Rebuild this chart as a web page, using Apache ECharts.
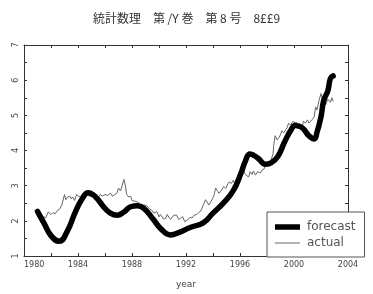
<!DOCTYPE html>
<html>
<head>
<meta charset="utf-8">
<script src="https://cdn.jsdelivr.net/npm/echarts@6/dist/echarts.min.js"></script>
<style>
  html, body { margin: 0; padding: 0; background: #fff; }
  #chart { width: 373px; height: 294px; }
</style>
</head>
<body>
<div id="chart"></div>
<script>
// 予測値 (太線)
var forecast = [
  [1981.0, 2.27], [1981.5, 1.92], [1982.0, 1.58], [1982.6, 1.42], [1983.2, 1.70],
  [1983.8, 2.25], [1984.3, 2.62], [1984.75, 2.80], [1985.3, 2.68], [1985.9, 2.40],
  [1986.4, 2.22], [1986.9, 2.16], [1987.4, 2.25], [1987.9, 2.40], [1988.4, 2.43],
  [1988.9, 2.35], [1989.5, 2.08], [1990.2, 1.75], [1990.85, 1.60], [1991.5, 1.67],
  [1992.3, 1.81], [1993.3, 1.95], [1994.0, 2.22], [1994.8, 2.52], [1995.5, 2.86],
  [1996.05, 3.33], [1996.4, 3.70], [1996.75, 3.90], [1997.3, 3.79], [1997.9, 3.61],
  [1998.3, 3.65], [1998.8, 3.83], [1999.3, 4.24], [1999.8, 4.60], [2000.1, 4.71],
  [2000.6, 4.65], [2001.1, 4.42], [2001.5, 4.33], [2001.7, 4.51], [2002.0, 4.96],
  [2002.2, 5.42], [2002.5, 5.69], [2002.7, 6.05], [2002.9, 6.12]
];

// 実績値 (細線)
var actual = [
  [1981.3, 2.02], [1981.45, 2.12], [1981.6, 2.08], [1981.8, 2.25], [1982.0, 2.18],
  [1982.15, 2.24], [1982.3, 2.20], [1982.5, 2.30], [1982.65, 2.34], [1982.8, 2.45],
  [1982.9, 2.47], [1983.0, 2.75], [1983.1, 2.60], [1983.25, 2.68], [1983.4, 2.70],
  [1983.5, 2.62], [1983.6, 2.68], [1983.75, 2.58], [1983.9, 2.75], [1984.05, 2.70],
  [1984.25, 2.66], [1984.4, 2.76], [1984.5, 2.79], [1984.7, 2.72], [1984.9, 2.70],
  [1985.1, 2.68], [1985.3, 2.62], [1985.5, 2.66], [1985.65, 2.75], [1985.8, 2.70],
  [1986.0, 2.75], [1986.2, 2.72], [1986.4, 2.79], [1986.55, 2.70], [1986.75, 2.75],
  [1986.9, 2.80], [1987.0, 2.93], [1987.15, 2.85], [1987.25, 2.88], [1987.4, 3.18],
  [1987.5, 3.02], [1987.6, 2.75], [1987.75, 2.68], [1987.9, 2.70], [1988.0, 2.58],
  [1988.1, 2.61], [1988.3, 2.55], [1988.5, 2.52], [1988.6, 2.40], [1988.7, 2.36],
  [1988.9, 2.45], [1989.1, 2.43], [1989.3, 2.34], [1989.5, 2.29], [1989.6, 2.22],
  [1989.7, 2.20], [1989.85, 2.26], [1990.0, 2.11], [1990.1, 2.18], [1990.2, 2.16],
  [1990.35, 2.05], [1990.5, 2.07], [1990.6, 2.18], [1990.7, 2.20], [1990.85, 2.04],
  [1990.96, 2.07], [1991.1, 2.16], [1991.3, 2.16], [1991.45, 2.04], [1991.6, 2.07],
  [1991.75, 2.12], [1991.9, 1.98], [1992.1, 2.02], [1992.3, 2.10], [1992.45, 2.08],
  [1992.6, 2.16], [1992.8, 2.18], [1992.95, 2.24], [1993.1, 2.28], [1993.3, 2.47],
  [1993.45, 2.60], [1993.56, 2.61], [1993.7, 2.45], [1993.8, 2.52], [1993.95, 2.62],
  [1994.05, 2.70], [1994.2, 2.93], [1994.35, 2.84], [1994.45, 2.78], [1994.6, 2.86],
  [1994.8, 2.98], [1994.95, 2.92], [1995.1, 3.05], [1995.2, 3.11], [1995.35, 3.06],
  [1995.5, 3.15], [1995.65, 3.02], [1995.8, 3.22], [1995.9, 3.33], [1996.05, 3.40],
  [1996.2, 3.47], [1996.35, 3.35], [1996.5, 3.28], [1996.65, 3.25], [1996.75, 3.40],
  [1996.9, 3.32], [1997.0, 3.42], [1997.15, 3.30], [1997.3, 3.40], [1997.5, 3.36],
  [1997.65, 3.45], [1997.8, 3.48], [1997.9, 3.60], [1998.1, 3.56], [1998.3, 3.74],
  [1998.45, 3.90], [1998.5, 4.15], [1998.6, 4.42], [1998.75, 4.30], [1998.9, 4.38],
  [1999.0, 4.45], [1999.1, 4.56], [1999.25, 4.50], [1999.4, 4.60], [1999.5, 4.66],
  [1999.6, 4.78], [1999.75, 4.72], [1999.9, 4.82], [2000.0, 4.87], [2000.1, 4.80],
  [2000.25, 4.78], [2000.4, 4.70], [2000.5, 4.74], [2000.6, 4.66], [2000.7, 4.83],
  [2000.85, 4.78], [2001.0, 4.87], [2001.1, 4.78], [2001.2, 4.83], [2001.35, 4.88],
  [2001.5, 4.96], [2001.6, 5.24], [2001.7, 5.15], [2001.85, 5.42], [2002.0, 5.62],
  [2002.1, 5.48], [2002.2, 5.42], [2002.35, 5.30], [2002.5, 5.46], [2002.6, 5.51],
  [2002.7, 5.37], [2002.8, 5.50], [2002.9, 5.40]
];

var seriesNames = ['forecast', 'actual'];
var titleText = '統計数理　第 /Y 巻　第 8 号　8££9';
var xName = 'year';

var axisColor = '#333';
var tickStyle = { show: true, inside: true, length: 3, lineStyle: { color: axisColor } };
var minorStyle = { show: true, splitNumber: 2, length: 3, lineStyle: { color: axisColor } };
var labelFont = { fontFamily: 'DejaVu Sans', fontSize: 8, color: '#444' };
// 年は区切りなしで表示
var plainNum = function (v) { return String(v); };

var myChart = echarts.init(document.getElementById('chart'));
var option = {
  animation: false,
  backgroundColor: '#fff',
  title: {
    text: titleText,
    left: 'center',
    top: 7,
    textStyle: { fontFamily: 'Noto Sans CJK JP', fontSize: 12, fontWeight: 'normal', color: '#333' }
  },
  grid: { left: 24, right: 25, top: 45, bottom: 28 },
  legend: {
    data: [
      { name: seriesNames[0], icon: 'path://M0,0 L25,0 L25,5.5 L0,5.5 Z' },
      { name: seriesNames[1], icon: 'path://M0,0 L25,0 L25,1 L0,1 Z' }
    ],
    orient: 'vertical',
    left: 267,
    top: 212,
    padding: [9, 9, 8, 8],
    itemGap: 4,
    itemWidth: 25,
    itemHeight: 14,
    borderColor: '#555',
    borderWidth: 1,
    backgroundColor: '#fff',
    textStyle: { fontFamily: 'DejaVu Sans', fontSize: 12, color: '#555', padding: [0, 0, 0, 2] }
  },
  xAxis: [{
    type: 'value', min: 1980, max: 2004, interval: 4,
    name: xName, nameLocation: 'middle', nameGap: 24,
    nameTextStyle: { fontFamily: 'DejaVu Sans', fontSize: 9, color: '#444' },
    axisLine: { show: true, lineStyle: { color: axisColor } },
    axisTick: tickStyle, minorTick: minorStyle,
    axisLabel: Object.assign({ margin: 5, alignMinLabel: 'left', formatter: plainNum }, labelFont),
    splitLine: { show: false }
  }, {
    type: 'value', min: 1980, max: 2004, interval: 4, position: 'top',
    axisLine: { show: true, lineStyle: { color: axisColor } },
    axisTick: tickStyle, minorTick: minorStyle,
    axisLabel: { show: false }, splitLine: { show: false }
  }],
  yAxis: [{
    type: 'value', min: 1, max: 7, interval: 1,
    axisLine: { show: true, lineStyle: { color: axisColor } },
    axisTick: tickStyle, minorTick: minorStyle,
    axisLabel: Object.assign({ rotate: 90, margin: 4 }, labelFont),
    splitLine: { show: false }
  }, {
    type: 'value', min: 1, max: 7, interval: 1, position: 'right',
    axisLine: { show: true, lineStyle: { color: axisColor } },
    axisTick: tickStyle, minorTick: minorStyle,
    axisLabel: { show: false }, splitLine: { show: false }
  }],
  series: [{
    name: seriesNames[1],
    type: 'line',
    data: actual,
    symbol: 'none',
    z: 2,
    itemStyle: { color: '#666' },
    lineStyle: { color: '#666', width: 1 }
  }, {
    name: seriesNames[0],
    type: 'line',
    data: forecast,
    smooth: true,
    symbol: 'none',
    z: 3,
    itemStyle: { color: '#000' },
    lineStyle: { color: '#000', width: 5.5, cap: 'round', join: 'round' }
  }]
};
myChart.setOption(option);
</script>
</body>
</html>
